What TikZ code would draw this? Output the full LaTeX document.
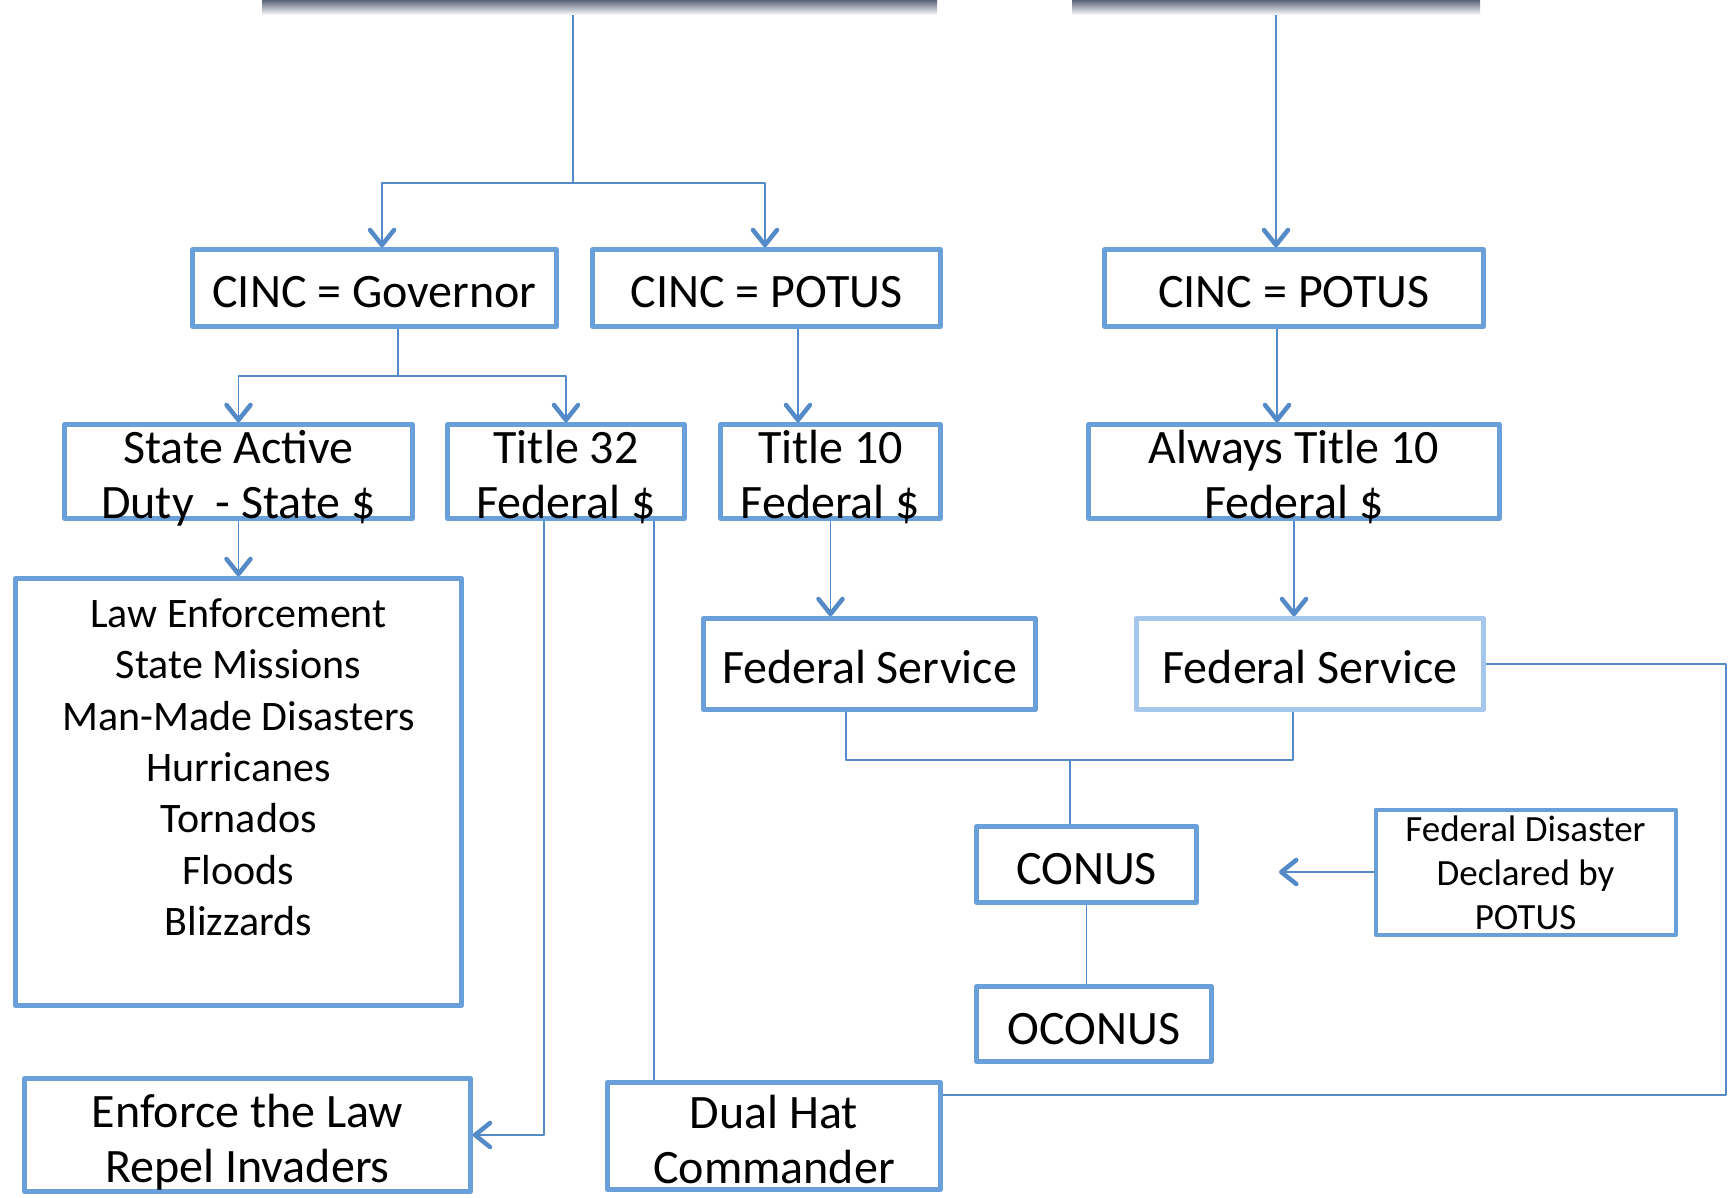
\documentclass[tikz,border=0pt]{standalone}
\usepackage{fontspec}
\setmainfont{Carlito}
\usetikzlibrary{arrows.meta}
\definecolor{boxblue}{RGB}{106,160,218}
\definecolor{paleblue}{RGB}{166,199,236}
\definecolor{lineblue}{RGB}{84,138,200}
\definecolor{bargray}{RGB}{92,102,122}

\begin{document}
\begin{tikzpicture}[x=1pt, y=-1pt, line join=round,
  box/.style={draw=boxblue, line width=4.5pt, fill=white, inner sep=0pt, align=center,
    text height=94pt, text depth=0pt, font=\fontsize{48}{55}\selectfont},
  single/.style={text height=38pt},
  bar/.style={inner sep=0pt, top color=bargray, bottom color=white, minimum height=15pt},
  link/.style={draw=lineblue, line width=1.6pt},
  arr/.style={link, -{Straight Barb[length=15pt,width=24pt,line width=4.5pt,round]}}]
\useasboundingbox (0,0) rectangle (1729,1197);

% cut-off boxes at the top
\node[bar, minimum width=675pt, anchor=north] (barL) at (599.5,0) {};
\node[bar, minimum width=408pt, anchor=north] (barR) at (1276,0) {};

% CINC row
\node[box, single, minimum width=364pt, minimum height=77pt] (gov) at (374.5,288) {CINC = Governor};
\node[box, single, minimum width=348pt, minimum height=77pt] (potusA) at (766.5,288) {CINC = POTUS};
\node[box, single, minimum width=379pt, minimum height=77pt] (potusB) at (1294,288) {CINC = POTUS};

% status / money row
\node[box, minimum width=348pt, minimum height=92pt] (sad) at (238.5,471.5) {State Active\\Duty\ \ - State \$};
\node[box, minimum width=237pt, minimum height=92pt] (t32) at (566,471.5) {Title 32\\Federal \$};
\node[box, minimum width=220pt, minimum height=92pt] (t10) at (830.5,471.5) {Title 10\\Federal \$};
\node[box, minimum width=411pt, minimum height=92pt] (at10) at (1294,471.5) {Always Title 10\\Federal \$};

% missions
\node[box, minimum width=446pt, minimum height=427pt] (law) at (238.5,792) {};
\node[anchor=north, align=center, font=\fontsize{42}{51.3}\selectfont] (lawtxt) at ([yshift=-19pt]law.north)
  {Law Enforcement\\State Missions\\Man-Made Disasters\\Hurricanes\\Tornados\\Floods\\Blizzards};

\node[box, single, text height=39pt, minimum width=332pt, minimum height=91pt] (fsA) at (869.5,664) {Federal Service};
\node[box, single, text height=39pt, draw=paleblue, minimum width=347pt, minimum height=91pt] (fsB) at (1310,664) {Federal Service};
\node[box, single, text height=40pt, minimum width=220pt, minimum height=76pt] (conus) at (1086.5,864.5) {CONUS};
\node[box, single, text height=40pt, minimum width=235pt, minimum height=75pt] (oconus) at (1094,1024) {OCONUS};
\node[box, line width=4pt, text height=114pt, minimum width=300pt, minimum height=125pt, font=\fontsize{37}{44}\selectfont] (fdd) at (1525.5,872)
  {Federal Disaster\\Declared by\\POTUS};
\node[box, minimum width=446pt, minimum height=113pt] (enforce) at (247.5,1135) {Enforce the Law\\Repel Invaders};
\node[box, minimum width=333pt, minimum height=107pt] (dual) at (774,1136) {Dual Hat\\Commander};

% connectors
\coordinate (splitA) at (573,183);
\coordinate (splitB) at (398,376);
\coordinate (splitC) at (1070,760);
\coordinate (cornR) at (1726,1095);
\coordinate (fddTip) at (1279,872);

\draw[link] ([xshift=-26.5pt]barL.south) -- (splitA);
\draw[arr] (splitA) -| ([xshift=7.5pt]gov.north);
\draw[arr] (splitA) -| ([xshift=-1.5pt]potusA.north);
\draw[arr] (barR.south) -- (barR.south |- potusB.north);

\draw[link] ([xshift=23.5pt]gov.south) -- (splitB);
\draw[arr] (splitB) -| (sad.north);
\draw[arr] (splitB) -| (t32.north);
\draw[arr] ([xshift=31.5pt]potusA.south) coordinate (p) -- (p |- t10.north);
\draw[arr] ([xshift=-17pt]potusB.south) -- ([xshift=-17pt]at10.north);

\draw[arr] (sad.south) -- (sad.south |- law.north);
\draw[arr] (t10.south) -- ([xshift=-39pt]fsA.north);
\draw[arr] (at10.south) -- ([xshift=-16pt]fsB.north);

\draw[link] ([xshift=-23.5pt]fsA.south) |- (splitC) -| ([xshift=-17pt]fsB.south);
\draw[link] (splitC) -- ([xshift=-16.5pt]conus.north);
\draw[link] (conus.south) -- (conus.south |- oconus.north);
\draw[arr] (fdd.west) -- (fddTip);

\draw[arr] ([xshift=-22pt]t32.south) |- (enforce.east);
\draw[link] ([xshift=88pt]t32.south) coordinate (q) -- (q |- dual.north);
\draw[link] (fsB.east) -| (cornR) -- (cornR -| dual.east);
\end{tikzpicture}
\end{document}
